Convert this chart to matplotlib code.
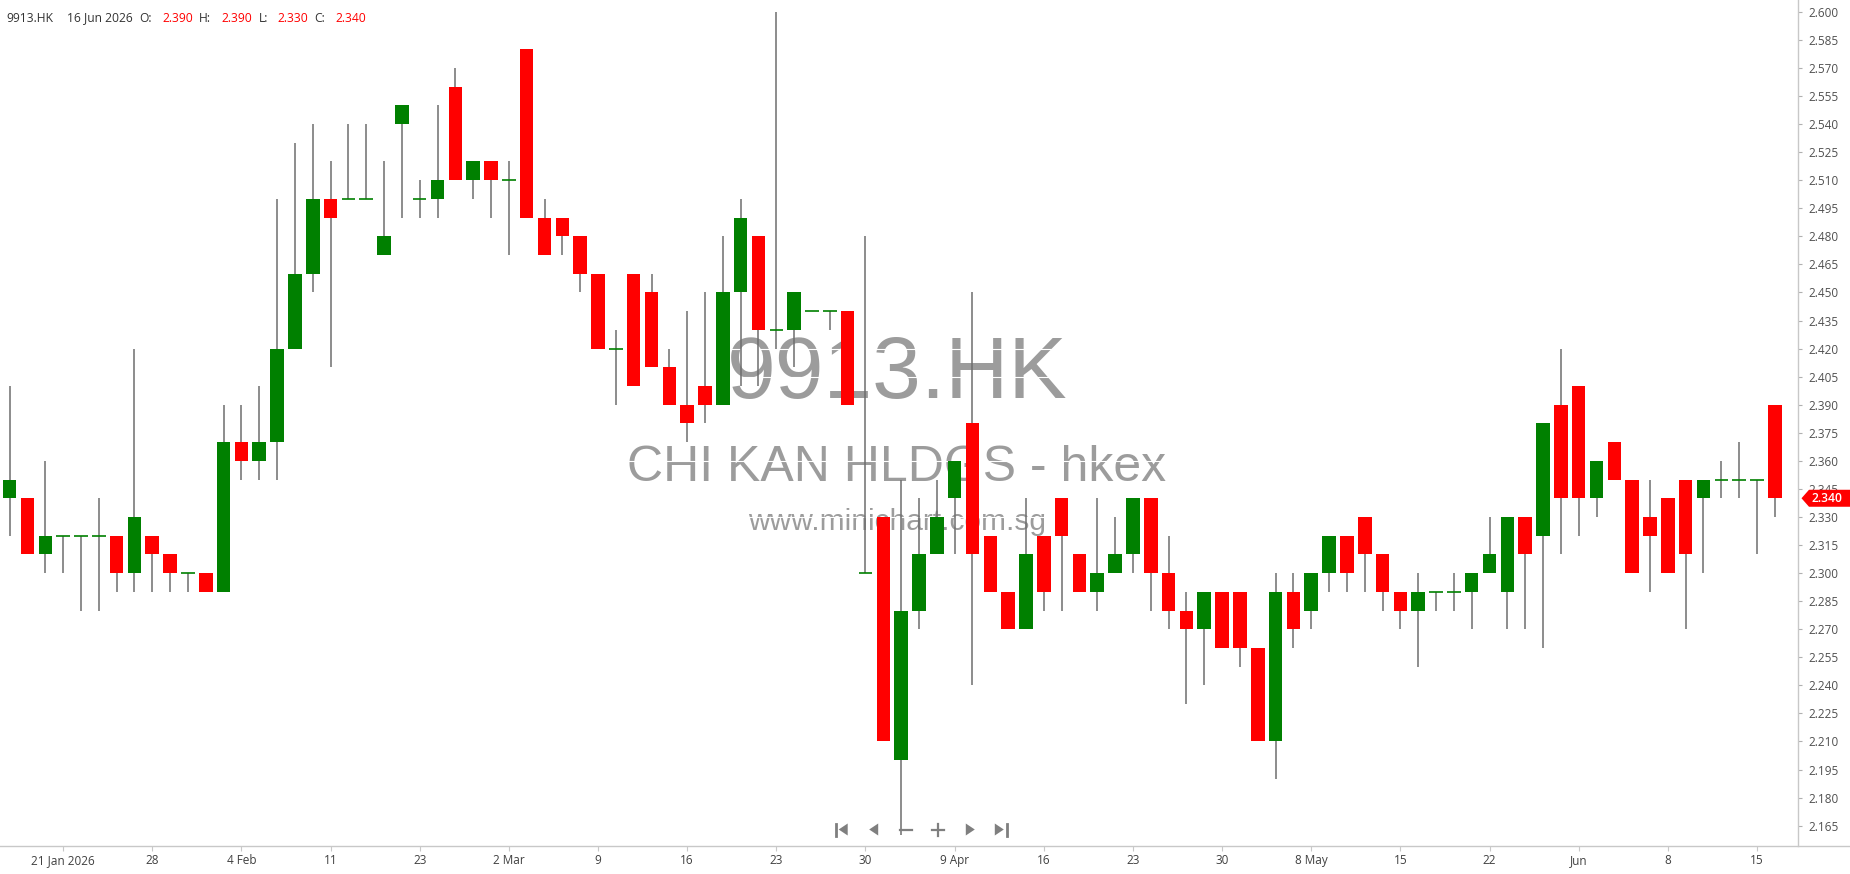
import matplotlib
matplotlib.use('Agg')
import matplotlib.pyplot as plt
import numpy as np
from matplotlib.patches import Polygon

# ---------------- data ----------------
opens  = [2.34, 2.34, 2.31, 2.32, 2.32, 2.32, 2.32, 2.30, 2.32, 2.31,
          2.30, 2.30, 2.29, 2.37, 2.36, 2.37, 2.42, 2.46, 2.50, 2.50,
          2.50, 2.47, 2.54, 2.50, 2.50, 2.56, 2.51, 2.52, 2.51, 2.58,
          2.49, 2.49, 2.48, 2.46, 2.42, 2.46, 2.45, 2.41, 2.39, 2.40,
          2.39, 2.45, 2.48, 2.43, 2.43, 2.44, 2.44, 2.44, 2.30, 2.33,
          2.20, 2.28, 2.31, 2.34, 2.38, 2.32, 2.29, 2.27, 2.32, 2.34,
          2.31, 2.29, 2.30, 2.31, 2.34, 2.30, 2.28, 2.27, 2.29, 2.29,
          2.26, 2.21, 2.29, 2.28, 2.30, 2.32, 2.33, 2.31, 2.29, 2.28,
          2.29, 2.29, 2.29, 2.30, 2.29, 2.33, 2.32, 2.39, 2.40, 2.34,
          2.37, 2.35, 2.33, 2.34, 2.35, 2.34, 2.35, 2.35, 2.35, 2.39]
highs  = [2.40, 2.34, 2.36, 2.32, 2.32, 2.34, 2.32, 2.42, 2.32, 2.31,
          2.30, 2.30, 2.39, 2.39, 2.40, 2.50, 2.53, 2.54, 2.52, 2.54,
          2.54, 2.52, 2.55, 2.51, 2.55, 2.57, 2.52, 2.52, 2.52, 2.58,
          2.50, 2.49, 2.48, 2.46, 2.43, 2.46, 2.46, 2.42, 2.44, 2.45,
          2.48, 2.50, 2.48, 2.60, 2.45, 2.44, 2.44, 2.44, 2.48, 2.33,
          2.35, 2.34, 2.35, 2.36, 2.45, 2.32, 2.29, 2.34, 2.32, 2.34,
          2.31, 2.34, 2.33, 2.34, 2.34, 2.32, 2.29, 2.29, 2.29, 2.29,
          2.26, 2.30, 2.30, 2.30, 2.32, 2.32, 2.33, 2.31, 2.29, 2.30,
          2.29, 2.30, 2.30, 2.33, 2.33, 2.33, 2.38, 2.42, 2.40, 2.36,
          2.37, 2.35, 2.35, 2.34, 2.35, 2.35, 2.36, 2.37, 2.35, 2.39]
lows   = [2.32, 2.31, 2.30, 2.30, 2.28, 2.28, 2.29, 2.29, 2.29, 2.29,
          2.29, 2.29, 2.29, 2.35, 2.35, 2.35, 2.42, 2.45, 2.41, 2.50,
          2.50, 2.47, 2.49, 2.49, 2.49, 2.51, 2.50, 2.49, 2.47, 2.49,
          2.47, 2.47, 2.45, 2.42, 2.39, 2.40, 2.41, 2.39, 2.37, 2.38,
          2.39, 2.40, 2.40, 2.42, 2.41, 2.44, 2.43, 2.39, 2.30, 2.21,
          2.16, 2.27, 2.31, 2.31, 2.24, 2.29, 2.27, 2.27, 2.28, 2.28,
          2.29, 2.28, 2.30, 2.30, 2.28, 2.27, 2.23, 2.24, 2.26, 2.25,
          2.21, 2.19, 2.26, 2.27, 2.29, 2.29, 2.29, 2.28, 2.27, 2.25,
          2.28, 2.28, 2.27, 2.30, 2.27, 2.27, 2.26, 2.31, 2.32, 2.33,
          2.35, 2.30, 2.29, 2.30, 2.27, 2.30, 2.34, 2.34, 2.31, 2.33]
closes = [2.35, 2.31, 2.32, 2.32, 2.32, 2.32, 2.30, 2.33, 2.31, 2.30,
          2.30, 2.29, 2.37, 2.36, 2.37, 2.42, 2.46, 2.50, 2.49, 2.50,
          2.50, 2.48, 2.55, 2.50, 2.51, 2.51, 2.52, 2.51, 2.51, 2.49,
          2.47, 2.48, 2.46, 2.42, 2.42, 2.40, 2.41, 2.39, 2.38, 2.39,
          2.45, 2.49, 2.43, 2.43, 2.45, 2.44, 2.44, 2.39, 2.30, 2.21,
          2.28, 2.31, 2.33, 2.36, 2.31, 2.29, 2.27, 2.31, 2.29, 2.32,
          2.29, 2.30, 2.31, 2.34, 2.30, 2.28, 2.27, 2.29, 2.26, 2.26,
          2.21, 2.29, 2.27, 2.30, 2.32, 2.30, 2.31, 2.29, 2.28, 2.29,
          2.29, 2.29, 2.30, 2.31, 2.33, 2.31, 2.38, 2.34, 2.34, 2.36,
          2.35, 2.30, 2.32, 2.30, 2.31, 2.35, 2.35, 2.35, 2.35, 2.34]

tick_idx    = [3, 8, 13, 18, 23, 28, 33, 38, 43, 48,
               53, 58, 63, 68, 73, 78, 83, 88, 93, 98]
tick_labels = ['21 Jan 2026', '28', '4 Feb', '11', '23', '2 Mar', '9', '16', '23', '30',
               '9 Apr', '16', '23', '30', '8 May', '15', '22', 'Jun', '8', '15']
price_ticks = [2.165, 2.180, 2.195, 2.210, 2.225, 2.240, 2.255, 2.270, 2.285, 2.300,
               2.315, 2.330, 2.345, 2.360, 2.375, 2.390, 2.405, 2.420, 2.435, 2.450,
               2.465, 2.480, 2.495, 2.510, 2.525, 2.540, 2.555, 2.570, 2.585, 2.600]
symbol = '9913.HK'
company = 'CHI KAN HLDGS - hkex'
site = 'www.minichart.com.sg'
last_date = '16 Jun 2026'

# ---------------- style ----------------
UP = '#008000'
DOWN = '#ff0000'
WICK = '#6e6e6e'
AXC = '#c8c8c8'
WM = '#9c9c9c'
FONT = 'Open Sans'

W, H = 1850, 874
AX_R, AX_B = 1798, 846
fig = plt.figure(figsize=(W / 100, H / 100), dpi=100)
fig.patch.set_facecolor('white')
ax = fig.add_axes([0, (H - AX_B) / H, AX_R / W, AX_B / H])
ax.set_facecolor('white')

n = len(opens)
xs = np.arange(n)
ax.set_xlim(-0.54, 100.3)
ax.set_ylim(2.15414, 2.60631)

# watermark (behind everything)
ax.text(897 / AX_R, 1 - 398 / AX_B, symbol, transform=ax.transAxes, ha='center',
        va='baseline', fontsize=63, color=WM, family='Liberation Sans', zorder=0.5)
ax.text(897 / AX_R, 1 - 481 / AX_B, company, transform=ax.transAxes, ha='center',
        va='baseline', fontsize=36, color=WM, family='Liberation Sans', zorder=0.5)
ax.text(897 / AX_R, 1 - 530.5 / AX_B, site, transform=ax.transAxes, ha='center',
        va='baseline', fontsize=21.5, color=WM, family='Liberation Sans', zorder=0.5)

# white grid lines
for p in price_ticks:
    ax.axhline(p, color='white', lw=0.8, zorder=1)

# candles
o = np.array(opens); h = np.array(highs); l = np.array(lows); c = np.array(closes)
ax.vlines(xs, l, h, color=WICK, lw=1.1, zorder=2)
bw = 0.76
up = c > o
dn = c < o
eq = c == o
ax.bar(xs[up], (c - o)[up], bottom=o[up], width=bw, color=UP, edgecolor='none', zorder=3)
ax.bar(xs[dn], (o - c)[dn], bottom=c[dn], width=bw, color=DOWN, edgecolor='none', zorder=3)
ax.hlines(c[eq], xs[eq] - bw / 2, xs[eq] + bw / 2, color=UP, lw=1.2, zorder=3)

# axes styling
for s in ['top', 'left', 'bottom']:
    ax.spines[s].set_visible(False)
ax.spines['right'].set_color(AXC)
ax.spines['right'].set_linewidth(1.0)
ax.yaxis.tick_right()
ax.set_yticks(price_ticks)
ax.set_yticklabels([f'{p:.3f}' for p in price_ticks])
ax.tick_params(axis='y', length=3, width=0.8, color='#b0b0b0', pad=4.2,
               labelsize=8.5, labelcolor='#505050')
ax.set_xticks(tick_idx)
ax.set_xticklabels(tick_labels)
ax.tick_params(axis='x', length=3.5, width=0.8, color=AXC, pad=2,
               labelsize=8.5, labelcolor='#404040')
for t in ax.get_xticklabels() + ax.get_yticklabels():
    t.set_family(FONT)

# ---------------- overlay (pixel coords) ----------------
ov = fig.add_axes([0, 0, 1, 1], zorder=5)
ov.set_xlim(0, W)
ov.set_ylim(H, 0)
ov.axis('off')
ov.patch.set_alpha(0)

# bottom axis line spanning full width
ov.plot([0, W], [AX_B, AX_B], color=AXC, lw=1.0)

# header
hdr_y = 18
vcol = DOWN if closes[-1] < opens[-1] else UP
hdr = [(6.7, symbol, '#333333'), (66.7, last_date, '#333333'),
       (139, 'O:', '#333333'), (162, f'{opens[-1]:.3f}', vcol),
       (199, 'H:', '#333333'), (221, f'{highs[-1]:.3f}', vcol),
       (259, 'L:', '#333333'), (277, f'{lows[-1]:.3f}', vcol),
       (314, 'C:', '#333333'), (335, f'{closes[-1]:.3f}', vcol)]
for xp, s, col in hdr:
    ov.text(xp, hdr_y, s, ha='left', va='center', fontsize=8.7, color=col, family=FONT)

# last price marker
fig.canvas.draw()
y_disp = ax.transData.transform((0, closes[-1]))[1]
ym = H - y_disp
mk = Polygon([(1801.5, ym), (1809, ym - 8.5), (W, ym - 8.5), (W, ym + 8.5), (1809, ym + 8.5)],
             closed=True, facecolor=vcol, edgecolor='none')
ov.add_patch(mk)
ov.text(1812, ym, f'{closes[-1]:.3f}', ha='left', va='center', fontsize=8.7,
        color='white', family=FONT, fontweight='semibold')

# navigation icons
NAV = '#7f7f7f'
cy = 829.5
def tri(cx, d, s=6):
    if d < 0:
        pts = [(cx - s * 0.8, cy), (cx + s * 0.7, cy - s), (cx + s * 0.7, cy + s)]
    else:
        pts = [(cx + s * 0.8, cy), (cx - s * 0.7, cy - s), (cx - s * 0.7, cy + s)]
    ov.add_patch(Polygon(pts, closed=True, facecolor=NAV, edgecolor='none'))

tri(843.5, -1)
ov.plot([836, 836], [cy - 6, cy + 6], color=NAV, lw=2)
tri(874, -1)
ov.plot([900, 912], [cy, cy], color=NAV, lw=1.6)
ov.plot([931.5, 943.5], [cy, cy], color=NAV, lw=1.6)
ov.plot([937.5, 937.5], [cy - 6, cy + 6], color=NAV, lw=1.6)
tri(970, 1)
tri(999, 1)
ov.plot([1007, 1007], [cy - 6, cy + 6], color=NAV, lw=2)

fig.savefig('out.png', dpi=100, facecolor='white')
